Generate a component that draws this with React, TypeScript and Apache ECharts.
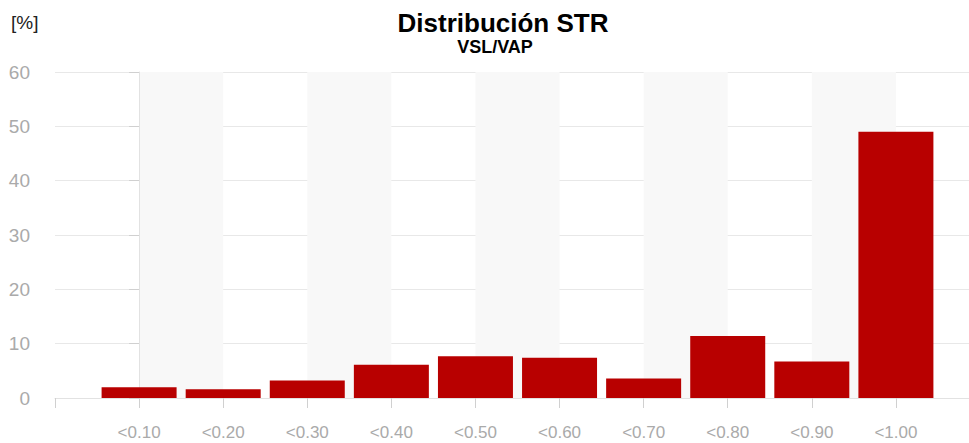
import React, { useEffect, useRef } from "react";
import * as echarts from "echarts";

const categories = ["<0.10", "<0.20", "<0.30", "<0.40", "<0.50", "<0.60", "<0.70", "<0.80", "<0.90", "<1.00"];
const values = [2.0, 1.6, 3.2, 6.1, 7.7, 7.4, 3.6, 11.4, 6.7, 49.0];
const yTicks = [0, 10, 20, 30, 40, 50, 60];

export default function App() {
  const ref = useRef<HTMLDivElement>(null);
  useEffect(() => {
    if (!ref.current) return;
    const chart = echarts.init(ref.current, undefined, { renderer: "svg" });
    const font = "Liberation Sans, Arial, sans-serif";
    chart.setOption({
      animation: false,
      backgroundColor: "#ffffff",
      title: [
        {
          text: "Distribución STR",
          left: 498,
          top: 5,
          textAlign: "center",
          textStyle: { fontFamily: font, fontSize: 26, fontWeight: "bold", color: "#000" },
        },
        {
          text: "VSL/VAP",
          left: 490,
          top: 33,
          textAlign: "center",
          textStyle: { fontFamily: font, fontSize: 18, fontWeight: "bold", color: "#000" },
        },
        {
          text: "[%]",
          left: 6,
          top: 8,
          textStyle: { fontFamily: font, fontSize: 19, fontWeight: "normal", color: "#222" },
        },
      ],
      grid: {
        left: 55,
        right: -11,
        top: 72,
        bottom: 45,
        containLabel: false,
        outerBoundsMode: "none",
      },
      xAxis: {
        type: "value",
        min: -1,
        max: categories.length,
        interval: 1,
        axisLine: { show: true, lineStyle: { color: "#e2e2e2" } },
        axisTick: { show: true, length: 10, lineStyle: { color: "#d0d0d0" } },
        axisLabel: {
          margin: 26,
          color: "#aaaaaa",
          fontSize: 17,
          fontFamily: font,
          formatter: (v: number) => (categories[v] !== undefined ? categories[v] : ""),
        },
        splitLine: { show: false },
        splitArea: { show: true, areaStyle: { color: ["rgba(255,255,255,0)", "#f8f8f8"] } },
      },
      yAxis: {
        type: "value",
        min: yTicks[0],
        max: yTicks[yTicks.length - 1],
        interval: 10,
        axisLine: { show: true, lineStyle: { color: "#e2e2e2" } },
        axisTick: { show: true, length: 10, lineStyle: { color: "#d0d0d0" } },
        axisLabel: { margin: 25, color: "#aaaaaa", fontSize: 19, fontFamily: font },
        splitLine: { show: true, lineStyle: { color: "#e8e8e8" } },
      },
      series: [
        {
          type: "bar",
          data: values.map((v, i) => [i, v]),
          barWidth: 75,
          itemStyle: { color: "#b80000" },
        },
      ],
    });
    return () => chart.dispose();
  }, []);
  return <div ref={ref} style={{ width: 969, height: 443, position: "absolute", left: 0, top: 0 }} />;
}
